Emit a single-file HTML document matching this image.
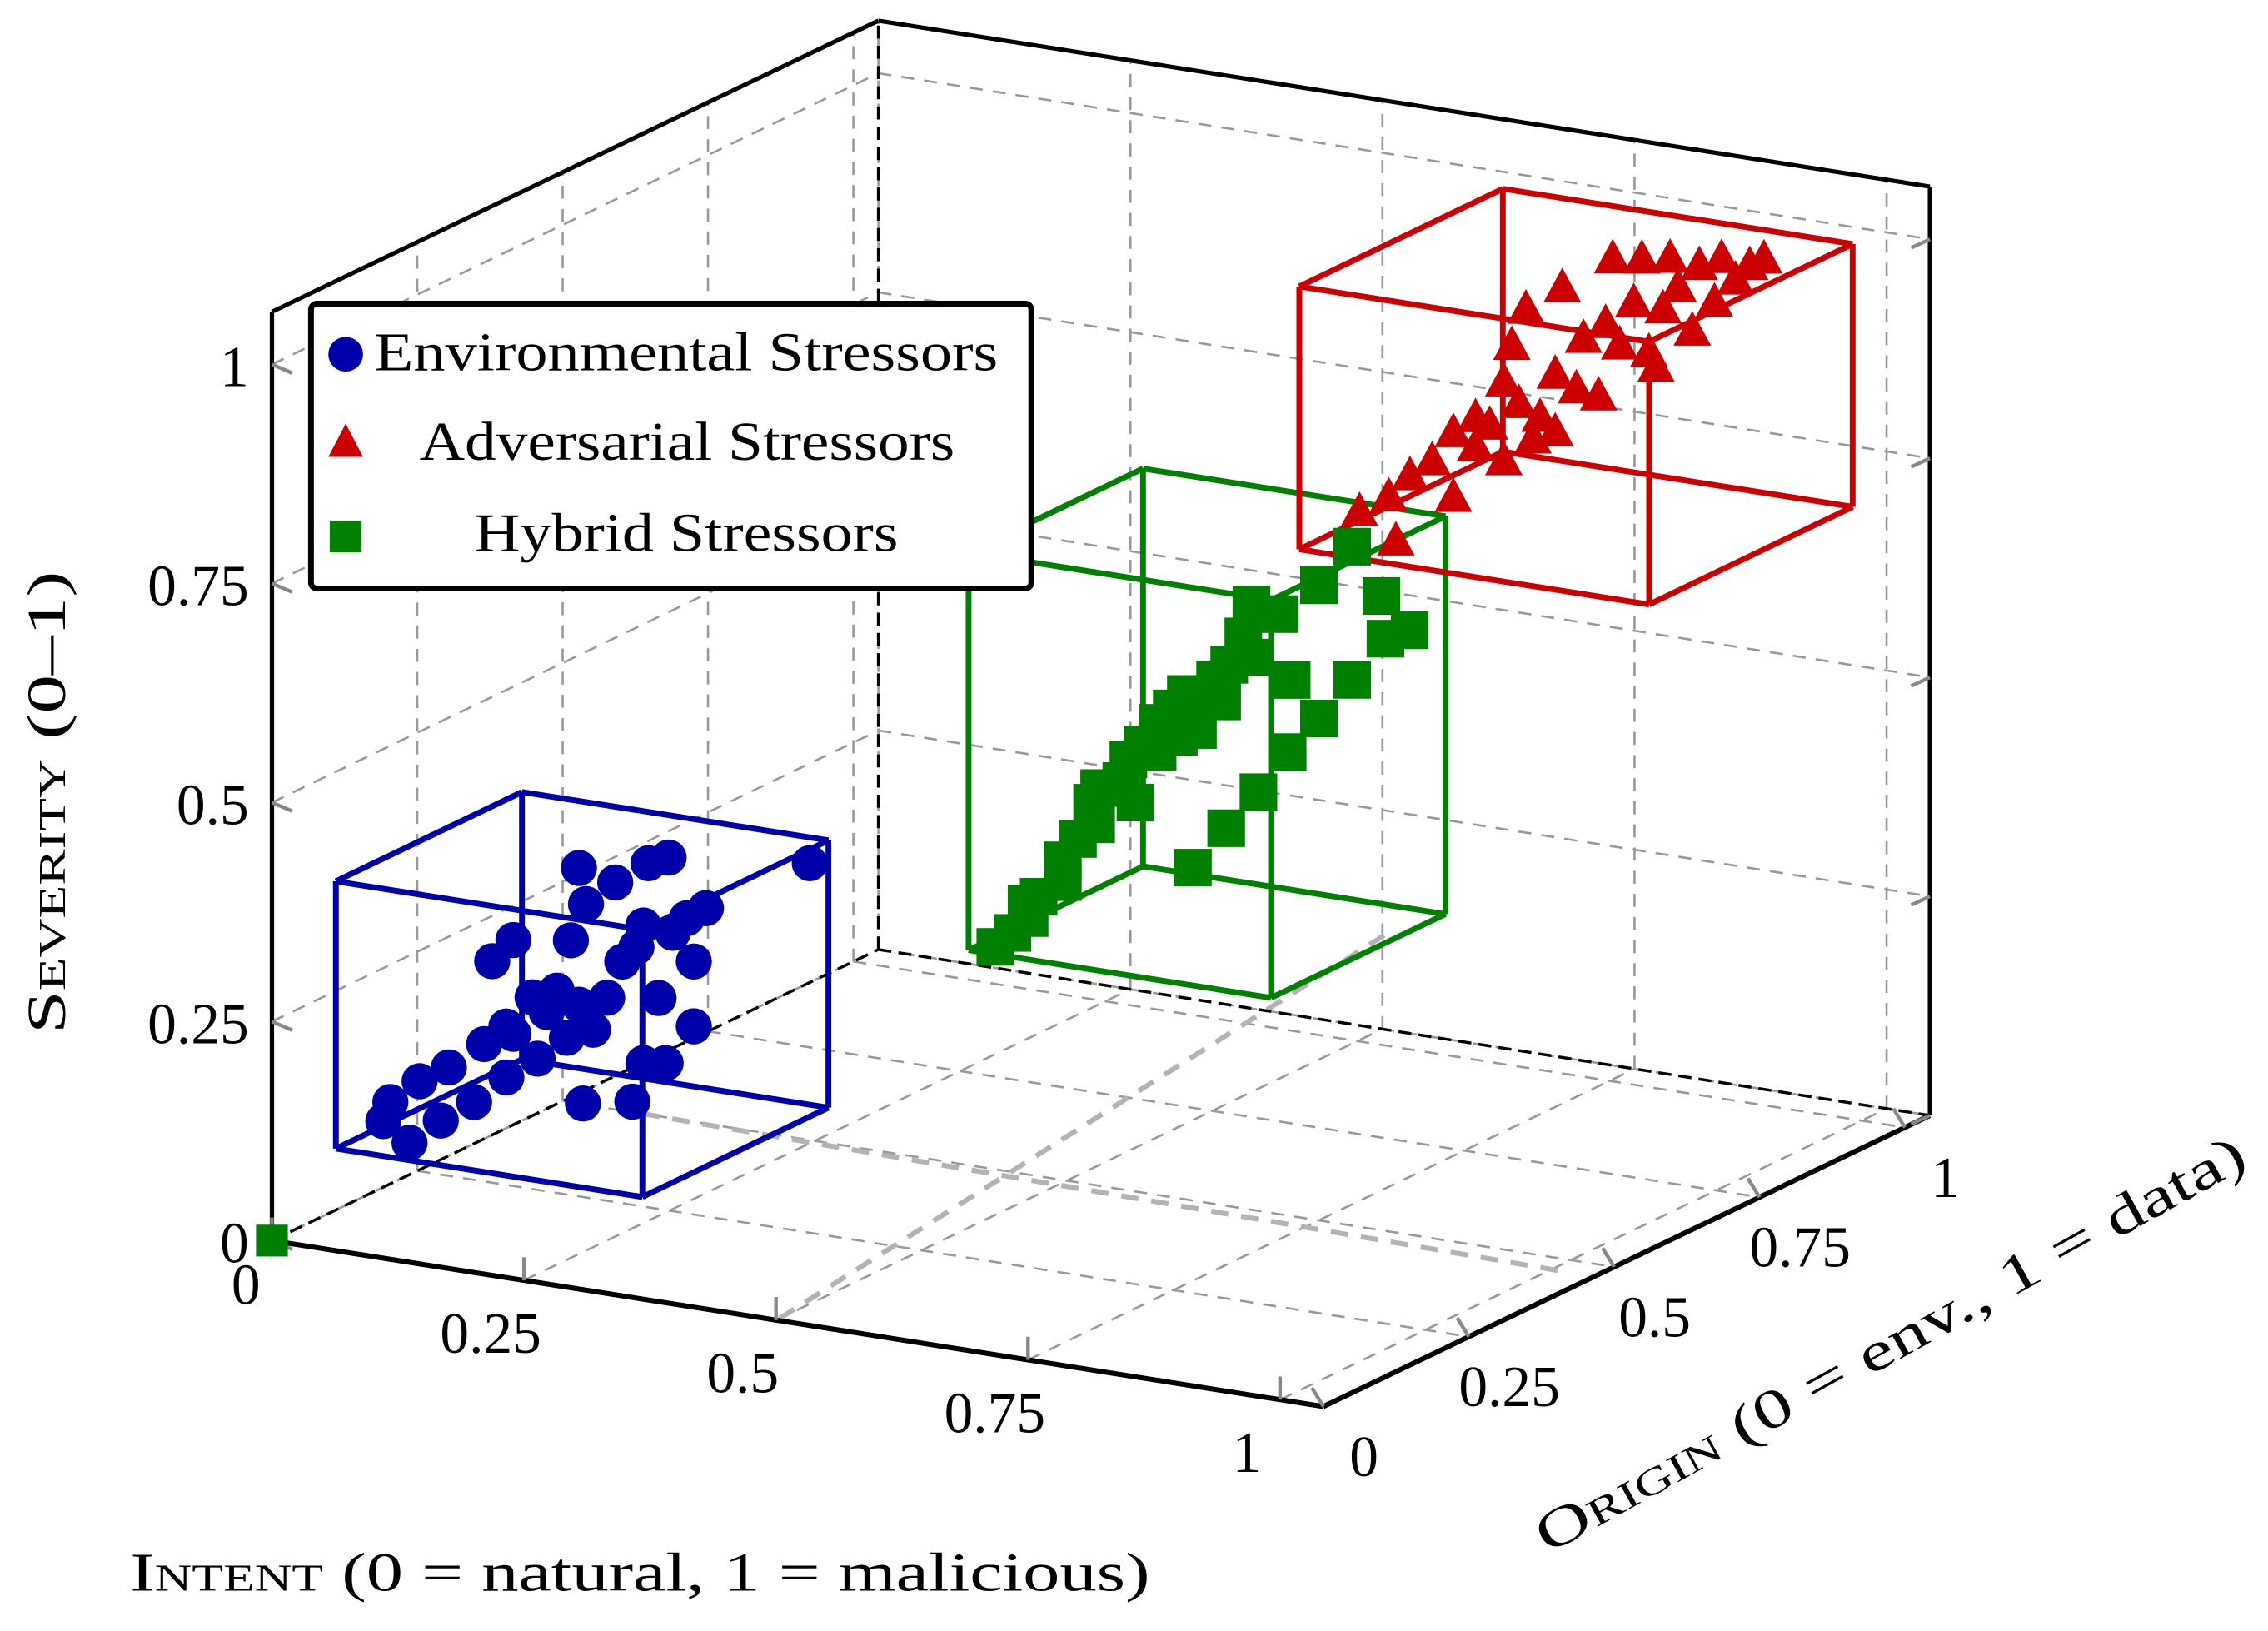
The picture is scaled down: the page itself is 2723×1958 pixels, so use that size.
<!DOCTYPE html>
<html><head><meta charset="utf-8"><style>
html,body{margin:0;padding:0;background:#fff;}
svg{display:block;}
text{font-family:"Liberation Serif",serif;fill:#000;}
.sc{font-variant:small-caps;}
</style></head><body>
<svg id="chart" width="2723" height="1958" viewBox="0 0 1568 1128" preserveAspectRatio="none" xmlns="http://www.w3.org/2000/svg">
<g id="grid"></g>
<g id="frame"></g>
<g id="boxes"></g>
<g id="marks"></g>
<g id="labels"></g>
<text x="0" y="0" transform="translate(45,555) rotate(-90)" text-anchor="middle" font-size="38" textLength="320" lengthAdjust="spacingAndGlyphs"><tspan class="sc">Severity</tspan> (0–1)</text>
<text x="90" y="1100" font-size="38" textLength="705" lengthAdjust="spacingAndGlyphs"><tspan class="sc">Intent</tspan> (0 = natural, 1 = malicious)</text>
<text x="0" y="0" transform="translate(1070,1075) rotate(-29)" font-size="38" textLength="555" lengthAdjust="spacingAndGlyphs"><tspan class="sc">Origin</tspan> (0 = env., 1 = data)</text>
<g>
<rect x="215" y="210" width="498" height="197" rx="4" fill="#fff" stroke="#000" stroke-width="4"/>
<circle cx="239" cy="245" r="12" fill="#0000aa"/>
<text x="259" y="256" font-size="38" textLength="431" lengthAdjust="spacingAndGlyphs">Environmental Stressors</text>
<polygon points="239,293 227,316 251,316" fill="#cc0000"/>
<text x="290" y="318" font-size="38" textLength="370" lengthAdjust="spacingAndGlyphs">Adversarial Stressors</text>
<rect x="228" y="360" width="22" height="22" fill="#008000"/>
<text x="328" y="381" font-size="38" textLength="293" lengthAdjust="spacingAndGlyphs">Hybrid Stressors</text>
</g>
</svg>
<script>
// Data (intent x, origin y, severity z)
const envX=[0.050,0.024,0.031,0.060,0.081,0.089,0.114,0.124,0.146,0.153,0.177,0.186,0.206,0.172,0.196,0.218,0.232,0.246,0.261,0.282,0.297,0.311,0.332,0.344,0.325,0.132,0.153,0.225,0.218,0.254,0.287,0.307,0.447,0.332,0.282,0.304,0.222,0.271,0.146,0.210,0.275];
const envY=[0.15,0.15,0.15,0.15,0.15,0.15,0.15,0.15,0.15,0.15,0.15,0.15,0.15,0.15,0.15,0.15,0.15,0.15,0.15,0.15,0.15,0.15,0.15,0.15,0.15,0.15,0.15,0.15,0.15,0.15,0.15,0.15,0.15,0.15,0.15,0.15,0.15,0.15,0.15,0.15,0.15];
const envZ=[0.073,0.093,0.116,0.145,0.104,0.166,0.131,0.199,0.165,0.216,0.192,0.247,0.221,0.261,0.273,0.261,0.235,0.274,0.318,0.363,0.283,0.360,0.331,0.394,0.379,0.295,0.323,0.377,0.417,0.407,0.435,0.445,0.464,0.257,0.206,0.210,0.149,0.160,0.223,0.333,0.337];
const hybX=[0.458,0.475,0.492,0.501,0.489,0.525,0.525,0.540,0.558,0.554,0.561,0.583,0.590,0.604,0.619,0.619,0.633,0.647,0.640,0.659,0.676,0.683,0.690,0.704,0.712,0.716,0.740,0.752,0.779,0.812,0.841,0.869,0.845,0.812,0.779,0.748,0.719,0.687,0.654,0.597];
const hybY=[0.45,0.45,0.45,0.45,0.45,0.45,0.45,0.45,0.45,0.45,0.45,0.45,0.45,0.45,0.45,0.45,0.45,0.45,0.45,0.45,0.45,0.45,0.45,0.45,0.45,0.45,0.45,0.45,0.45,0.45,0.45,0.45,0.45,0.45,0.45,0.45,0.45,0.45,0.45,0.45];
const hybZ=[0.275,0.294,0.314,0.340,0.330,0.361,0.386,0.413,0.433,0.457,0.475,0.487,0.513,0.532,0.527,0.560,0.579,0.598,0.547,0.559,0.620,0.596,0.639,0.674,0.712,0.652,0.706,0.633,0.746,0.796,0.745,0.711,0.697,0.644,0.594,0.550,0.499,0.452,0.401,0.465];
const advX=[0.629,0.665,0.658,0.679,0.701,0.722,0.722,0.744,0.758,0.772,0.787,0.801,0.808,0.823,0.780,0.794,0.823,0.830,0.844,0.851,0.866,0.873,0.880,0.887,0.901,0.909,0.916,0.923,0.930,0.937,0.945,0.959,0.966,0.981,0.988,1.002,1.016,1.030,0.772,0.744];
const advY=[0.78,0.78,0.78,0.78,0.78,0.78,0.78,0.78,0.78,0.78,0.78,0.78,0.78,0.78,0.78,0.78,0.78,0.78,0.78,0.78,0.78,0.78,0.78,0.78,0.78,0.78,0.78,0.78,0.78,0.78,0.78,0.78,0.78,0.78,0.78,0.78,0.78,0.78,0.78,0.78];
const advZ=[0.696,0.669,0.718,0.746,0.767,0.729,0.803,0.791,0.818,0.780,0.848,0.810,0.836,0.822,0.913,0.957,0.888,0.988,0.875,0.934,0.871,0.955,1.030,0.933,0.984,1.035,0.930,0.914,0.982,1.041,1.009,0.962,1.038,0.999,1.050,1.028,1.047,1.057,0.870,0.824];
// cluster boxes [x0,x1,y0,y1,z0,z1]
const envBox=[0.0,0.304,0.11,0.43,0.07,0.375];
const hybBox=[0.518,0.818,0.30,0.60,0.33,0.784];
const advBox=[0.673,1.02,0.60,0.95,0.72,1.02];
const ticks=[0,0.25,0.5,0.75,1];
const tickLabels=["0","0.25","0.5","0.75","1"];
const XMAX=1.043,YMAX=1.043,ZMAX=1.06;

const NS="http://www.w3.org/2000/svg";
function P(x,y,z){return [188+697*x+402*y, 858+110*x-193*y-606*z];}
function mk(tag,attrs,parent){const e=document.createElementNS(NS,tag);for(const k in attrs)e.setAttribute(k,attrs[k]);parent.appendChild(e);return e;}
function line(a,b,st,parent,name){
  const e=mk('line',{x1:a[0],y1:a[1],x2:b[0],y2:b[1],stroke:st.c,'stroke-width':st.w,'stroke-dasharray':st.d||'none'},parent);
  
  
  return e;
}
const G=document.getElementById('grid'),F=document.getElementById('frame'),B=document.getElementById('boxes'),M=document.getElementById('marks'),L=document.getElementById('labels');
const gs={c:'#999',w:1.5,d:'9,7'};
ticks.forEach(t=>{
  line(P(t,YMAX,0),P(t,YMAX,ZMAX),gs,G,'grid-back-x');
  line(P(0,YMAX,t),P(XMAX,YMAX,t),gs,G,'grid-back-z');
  line(P(0,t,0),P(0,t,ZMAX),gs,G,'grid-left-y');
  line(P(0,0,t),P(0,YMAX,t),gs,G,'grid-left-z');
  line(P(t,0,0),P(t,YMAX,0),gs,G,'grid-floor-x');
  line(P(0,t,0),P(XMAX,t,0),gs,G,'grid-floor-y');
});
const ls={c:'#b3b3b3',w:3.5,d:'12,9'};
line(P(0.079,0.5,0),P(1.018,0.466,0),ls,G,'guide-line-1');
line(P(0.5,0.006,0),[960,645],ls,G,'guide-line-2');
const fs={c:'#000',w:3};
line(P(0,0,0),P(0,0,ZMAX),fs,F,'z-axis-line');
line(P(0,0,ZMAX),P(0,YMAX,ZMAX),fs,F,'frame-top-left');
line(P(0,YMAX,ZMAX),P(XMAX,YMAX,ZMAX),fs,F,'frame-top-back');
line(P(XMAX,YMAX,ZMAX),P(XMAX,YMAX,0),fs,F,'frame-back-right');
line(P(0,0,0),P(XMAX,0,0),{c:'#000',w:3.5},F,'x-axis-line');
line(P(XMAX,0,0),P(XMAX,YMAX,0),{c:'#000',w:3.5},F,'y-axis-line');
const ds={c:'#000',w:2,d:'9,5'};
line(P(0,YMAX,0),P(0,YMAX,ZMAX),ds,F,'frame-back-vertical');
line(P(0,0,0),P(0,YMAX,0),ds,F,'frame-floor-left');
line(P(0,YMAX,0),P(XMAX,YMAX,0),ds,F,'frame-floor-back');
const ts={c:'#888',w:2.5};
ticks.forEach(t=>{
  const a=P(t,0,0);line(a,[a[0],a[1]-16],ts,F,'x-tick');
  const b=P(XMAX,t,0);line(b,[b[0]-8,b[1]-13],ts,F,'y-tick');
  const c=P(0,0,t);line(c,[c[0]+14,c[1]+6],ts,F,'z-tick');
  const d=P(XMAX,YMAX,t);line(d,[d[0]-13,d[1]+6],ts,F,'z-tick-right');
});
ticks.forEach((t,i)=>{
  const p=P(t,0,0);
  let e=mk('text',{x:i==0?170:p[0]-23,y:i==0?902:p[1]+50,'font-size':40,'text-anchor':'middle'},L);
  e.textContent=tickLabels[i];
  
  
  const yq=P(XMAX,t,0);
  let f=mk('text',{x:yq[0]+28,y:yq[1]+48,'font-size':40,'text-anchor':'middle'},L);
  f.textContent=tickLabels[i];
  
  
  const zq=P(0,0,t);
  let g=mk('text',{x:172,y:zq[1]+15,'font-size':40,'text-anchor':'end'},L);
  g.textContent=tickLabels[i];
  
  
});
function cube(bx,col,name){
  const [x0,x1,y0,y1,z0,z1]=bx;
  const E=[[[x0,y0,z0],[x1,y0,z0]],[[x0,y1,z0],[x1,y1,z0]],[[x0,y0,z1],[x1,y0,z1]],[[x0,y1,z1],[x1,y1,z1]],
    [[x0,y0,z0],[x0,y1,z0]],[[x1,y0,z0],[x1,y1,z0]],[[x0,y0,z1],[x0,y1,z1]],[[x1,y0,z1],[x1,y1,z1]],
    [[x0,y0,z0],[x0,y0,z1]],[[x1,y0,z0],[x1,y0,z1]],[[x0,y1,z0],[x0,y1,z1]],[[x1,y1,z0],[x1,y1,z1]]];
  E.forEach(e=>line(P(...e[0]),P(...e[1]),{c:col,w:4},B,name));
}
cube(envBox,'#0000aa','environmental-box');
cube(hybBox,'#008000','hybrid-box');
cube(advBox,'#cc0000','adversarial-box');
envX.forEach((x,i)=>{const p=P(x,envY[i],envZ[i]);
  const e=mk('circle',{cx:p[0],cy:p[1],r:12.5,fill:'#0000aa'},M);
  
  });
hybX.forEach((x,i)=>{const p=P(x,hybY[i],hybZ[i]);
  const e=mk('rect',{x:p[0]-13,y:p[1]-13,width:26,height:26,fill:'#008000'},M);
  
  });
advX.forEach((x,i)=>{const p=P(x,advY[i],advZ[i]);
  const e=mk('polygon',{points:`${p[0]},${p[1]-15} ${p[0]-13},${p[1]+9} ${p[0]+13},${p[1]+9}`,fill:'#cc0000'},M);
  
  });
const o=P(0,0,0);
const om=mk('rect',{x:o[0]-11,y:o[1]-11,width:22,height:22,fill:'#008000'},M);


</script>
</body></html>
